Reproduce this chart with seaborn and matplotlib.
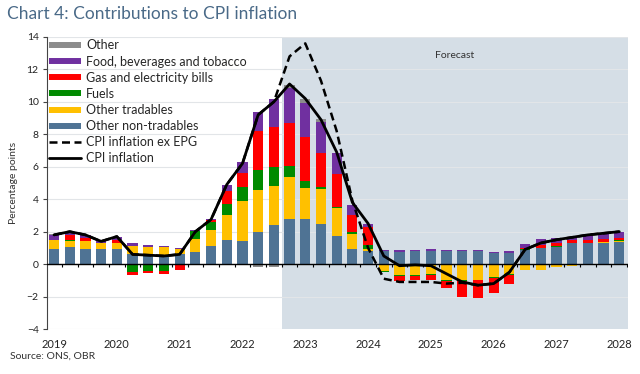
import numpy as np
import pandas as pd
import matplotlib
matplotlib.use("Agg")
import matplotlib.pyplot as plt
from matplotlib.lines import Line2D
import seaborn as sns

# Quarterly contributions, 2019Q1 .. 2028Q1 (percentage points)
quarters = pd.period_range("2019Q1", "2028Q1", freq="Q")
years = [str(y) for y in range(2019, 2029)]

non_tradables = [0.95, 1.05, 0.9, 0.9, 0.9, 0.65, 0.6, 0.55, 0.6, 0.75, 1.1, 1.48, 1.4,
                 2.0, 2.4, 2.8, 2.76, 2.47, 1.73, 0.95, 0.8, 0.8, 0.76, 0.8, 0.82, 0.78,
                 0.8, 0.78, 0.66, 0.7, 0.86, 0.97, 1.07, 1.27, 1.27, 1.3, 1.38]
tradables = [0.55, 0.35, 0.5, 0.4, 0.4, 0.45, 0.45, 0.5, 0.35, 0.8, 1.0, 1.55, 2.5,
             2.57, 2.4, 2.55, 1.95, 2.16, 1.75, 0.9, 0.15, -0.43, -0.68, -0.65, -0.6, -0.95,
             -1.0, -0.95, -0.78, -0.6, -0.37, -0.35, -0.2, -0.1, -0.05, 0.05, 0.07]
fuels = [0.0, 0.1, 0.0, 0.0, 0.0, -0.5, -0.4, -0.45, -0.05, 0.5, 0.5, 0.7, 0.87,
         1.23, 1.17, 0.7, 0.43, 0.14, 0.05, 0.15, 0.2, -0.05, -0.07, -0.1, -0.1, -0.1,
         -0.05, -0.05, -0.05, -0.05, 0.05, 0.05, 0.05, 0.0, 0.03, 0.03, 0.03]
gas_elec = [0.0, 0.3, 0.2, -0.05, 0.2, -0.15, -0.15, -0.15, -0.3, 0.0, 0.1, 0.75, 0.83,
            2.4, 2.47, 2.67, 2.72, 2.06, 2.0, 1.05, 1.13, 0.0, -0.3, -0.25, -0.25, -0.45,
            -0.95, -1.1, -0.94, -0.6, 0.1, 0.15, 0.18, 0.2, 0.2, 0.17, 0.13]
food = [0.3, 0.2, 0.2, 0.1, 0.15, 0.2, 0.1, 0.05, 0.05, 0.05, 0.1, 0.4, 0.7,
        1.2, 1.76, 2.12, 2.06, 1.95, 1.29, 0.61, 0.2, 0.05, 0.09, 0.08, 0.11, 0.07,
        0.08, 0.07, 0.08, 0.1, 0.21, 0.35, 0.28, 0.21, 0.27, 0.35, 0.35]
other = [0.05, 0.0, 0.0, 0.0, 0.0, 0.0, 0.0, 0.0, 0.0, 0.0, 0.0, 0.0, -0.05,
         -0.15, -0.15, 0.21, 0.24, 0.15, 0.05, 0.0, 0.0, 0.0, 0.0, 0.0, 0.0, 0.0,
         0.0, 0.0, 0.0, 0.0, 0.0, 0.0, 0.0, 0.0, 0.0, 0.0, 0.0]

cpi = [1.8, 2.0, 1.8, 1.4, 1.7, 0.6, 0.55, 0.5, 0.6, 2.0, 2.75, 4.9, 6.2,
       9.2, 10.0, 11.1, 10.2, 8.9, 6.9, 3.8, 2.5, 0.5, -0.1, -0.05, -0.1, -0.6,
       -1.1, -1.3, -1.2, -0.5, 0.9, 1.3, 1.5, 1.65, 1.8, 1.9, 2.0]
cpi_ex_epg = [1.8, 2.0, 1.8, 1.4, 1.7, 0.6, 0.55, 0.5, 0.6, 2.0, 2.75, 4.9, 6.2,
              9.2, 10.0, 12.8, 13.6, 11.3, 8.2, 3.9, 1.0, -0.9, -1.1, -1.1, -1.1, -1.2,
              -1.15, -1.3, -1.2, -0.5, 0.9, 1.3, 1.5, 1.65, 1.8, 1.9, 2.0]

forecast_start = "2022Q4"

components = [
    ("Other non-tradables", non_tradables, "#4f7394"),
    ("Other tradables", tradables, "#ffc000"),
    ("Fuels", fuels, "#008a00"),
    ("Gas and electricity bills", gas_elec, "#ff0000"),
    ("Food, beverages and tobacco", food, "#7030a0"),
    ("Other", other, "#8c8c8c"),
]

sns.set_style("white")
plt.rcParams['font.family'] = ['Lato', 'DejaVu Sans']

x = np.arange(len(quarters))
fig = plt.figure(figsize=(6.4, 3.74), dpi=100)
ax = fig.add_axes([0.0734, 0.1203, 0.908, 0.781])

# forecast shading
fc = list(quarters.astype(str)).index(forecast_start)
ax.axvspan(fc - 0.5, x[-1] + 0.56, color="#d5dee6", lw=0, zorder=0)

for v in np.arange(-4, 15, 2):
    ax.axhline(v, color="#e2e5e8", lw=0.8, zorder=0.5)

# stacked bars, positives up and negatives down
pos_base = np.zeros(len(x))
neg_base = np.zeros(len(x))
for name, vals, col in components:
    vals = np.array(vals)
    pos = np.where(vals > 0, vals, 0)
    neg = np.where(vals < 0, vals, 0)
    ax.bar(x, pos, bottom=pos_base, width=0.65, color=col, lw=0, zorder=2)
    ax.bar(x, neg, bottom=neg_base, width=0.65, color=col, lw=0, zorder=2)
    pos_base += pos
    neg_base += neg

lines = pd.DataFrame({"q": x, "cpi": cpi, "ex": cpi_ex_epg})
sns.lineplot(data=lines, x="q", y="ex", ax=ax, color="black", lw=1.8,
             linestyle=(0, (3.2, 1.8)), zorder=4, legend=False)
sns.lineplot(data=lines, x="q", y="cpi", ax=ax, color="black", lw=2.0,
             zorder=5, legend=False)

# zero line with quarter ticks
ax.axhline(0, color="black", lw=1.0, zorder=3)
ax.vlines(x + 0.5, -0.18, 0, color="black", lw=0.8, zorder=3)

ax.set_xlim(-0.45, x[-1] + 0.56)
ax.set_ylim(-4, 14)
ax.set_yticks(np.arange(-4, 15, 2))
ax.set_xticks(x[::4])
ax.set_xticklabels(years)
ax.tick_params(axis="x", length=0, pad=7, labelsize=8, labelcolor="#222222")
ax.tick_params(axis="y", length=3, width=0.8, pad=3, labelsize=7.5,
               labelcolor="#222222", color="#444444", left=True)
for s in ["top", "right", "bottom"]:
    ax.spines[s].set_visible(False)
ax.spines["left"].set_color("#444444")
ax.spines["left"].set_linewidth(0.8)
ax.set_xlabel("")
ax.set_ylabel("Percentage points", fontsize=7.5, color="#333333", labelpad=6)

ax.text(0.702, 0.935, "Forecast", transform=ax.transAxes, ha="center",
        va="center", fontsize=7.5, color="#333333")

handles = [Line2D([], [], color=c, lw=4.3, solid_capstyle="butt")
           for _, _, c in components[::-1]]
labels = [n for n, _, _ in components[::-1]]
handles += [Line2D([], [], color="black", lw=1.8, linestyle=(0, (3.2, 1.8))),
            Line2D([], [], color="black", lw=2.0)]
labels += ["CPI inflation ex EPG", "CPI inflation"]
ax.legend(handles, labels, loc="upper left", bbox_to_anchor=(0.0, 1.0),
          frameon=False, fontsize=9, handlelength=2.5, handletextpad=0.45,
          labelspacing=0.33, borderaxespad=0, borderpad=0.2)

fig.text(0.011, 0.962, "Chart 4: Contributions to CPI inflation", fontsize=12.5,
         color="#4a6a88", ha="left", va="center")
fig.text(0.016, 0.048, "Source: ONS, OBR", fontsize=7.5, color="#333333",
         ha="left", va="center")

fig.savefig("out.png", dpi=100)
